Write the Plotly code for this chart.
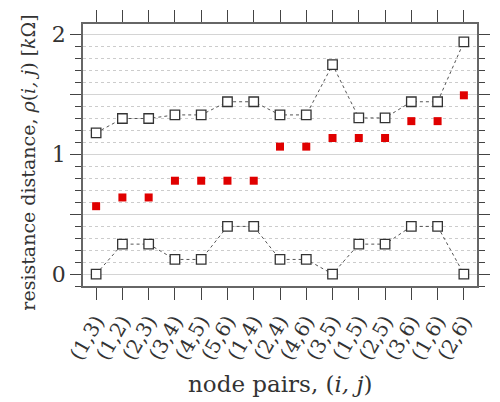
import plotly.graph_objects as go

pairs = ["(1,3)", "(1,2)", "(2,3)", "(3,4)", "(4,5)", "(5,6)", "(1,4)", "(2,4)",
         "(4,6)", "(3,5)", "(1,5)", "(2,5)", "(3,6)", "(1,6)", "(2,6)"]
upper = [1.18, 1.30, 1.30, 1.33, 1.33, 1.44, 1.44, 1.33, 1.33, 1.75, 1.305, 1.305, 1.44, 1.44, 1.94]
resist = [0.567, 0.64, 0.64, 0.78, 0.78, 0.78, 0.78, 1.065, 1.065, 1.137, 1.137, 1.137, 1.278, 1.278, 1.494]
lower = [0.0, 0.25, 0.25, 0.122, 0.122, 0.398, 0.398, 0.122, 0.122, 0.0, 0.25, 0.25, 0.398, 0.398, 0.0]
ytickvals = [0, 0.5, 1, 1.5, 2]
yticktext = ["0", "", "1", "", "2"]

xi = list(range(len(pairs)))
FONT = "DejaVu Serif"

fig = go.Figure()
for ys in (upper, lower):
    fig.add_trace(go.Scatter(
        x=xi, y=ys, mode="lines+markers",
        line=dict(color="#555555", width=1, dash="dot"),
        marker=dict(symbol="square", size=9.5, color="white",
                    line=dict(color="#333333", width=1.3)),
        showlegend=False))
fig.add_trace(go.Scatter(
    x=xi, y=resist, mode="markers",
    marker=dict(symbol="square", size=8, color="#e00000",
                line=dict(width=0)),
    showlegend=False))

fig.update_layout(
    width=500, height=402,
    margin=dict(l=83, r=10, t=22, b=116),
    paper_bgcolor="white", plot_bgcolor="white",
    font=dict(family=FONT, color="#333333"),
    xaxis=dict(
        range=[-0.5, 14.5], tickmode="array", tickvals=xi, ticktext=pairs,
        tickangle=-60, tickfont=dict(size=20, family=FONT),
        ticklabelstandoff=2,
        ticks="outside", ticklen=12, tickwidth=1.3, tickcolor="#444",
        showline=True, linecolor="#666", linewidth=1.5, mirror="ticks",
        showgrid=False, zeroline=False),
    yaxis=dict(
        range=[-0.1, 2.09], tickmode="array", tickvals=ytickvals, ticktext=yticktext,
        tickfont=dict(size=22, family=FONT),
        ticks="outside", ticklen=11, tickwidth=1.3, tickcolor="#444",
        showline=True, linecolor="#666", linewidth=1.5, mirror="ticks",
        showgrid=True, gridcolor="#d4d4d4", gridwidth=1, zeroline=False,
        minor=dict(dtick=0.1, tick0=0, ticks="outside", ticklen=6,
                   tickcolor="#444", tickwidth=1.2,
                   showgrid=True, gridcolor="#cccccc", griddash="dot", gridwidth=1)),
    annotations=[
        dict(text="node pairs, (<i>i, j</i>)", xref="paper", yref="paper",
             x=0.5, y=-0.375, showarrow=False, xanchor="center", yanchor="middle",
             font=dict(size=23, family=FONT, color="#333")),
        dict(text="resistance distance, <i>ρ</i>(<i>i, j</i>) [<i>k</i>Ω]",
             xref="paper", yref="paper", x=-0.14, y=0.47, textangle=-90,
             showarrow=False, xanchor="center", yanchor="middle",
             font=dict(size=19, family=FONT, color="#333")),
    ],
)

fig.write_html("out.html")
